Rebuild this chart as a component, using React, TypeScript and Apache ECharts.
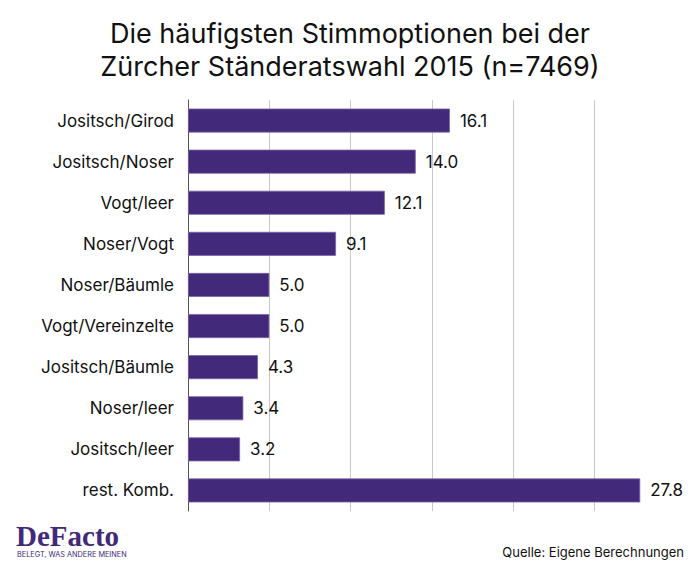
import React, { useEffect, useRef } from "react";
import * as echarts from "echarts";

const categories = [
  "Jositsch/Girod",
  "Jositsch/Noser",
  "Vogt/leer",
  "Noser/Vogt",
  "Noser/Bäumle",
  "Vogt/Vereinzelte",
  "Jositsch/Bäumle",
  "Noser/leer",
  "Jositsch/leer",
  "rest. Komb.",
];
const values = [16.1, 14.0, 12.1, 9.1, 5.0, 5.0, 4.3, 3.4, 3.2, 27.8];
const titleLines = ["Die häufigsten Stimmoptionen bei der", "Zürcher Ständeratswahl 2015 (n=7469)"];
const sourceText = "Quelle: Eigene Berechnungen";

const FONT = "Inter, 'Noto Sans', sans-serif";
const PURPLE = "#42297a";

export default function App() {
  const ref = useRef<HTMLDivElement>(null);
  useEffect(() => {
    if (!ref.current) return;
    const chart = echarts.init(ref.current, null, { renderer: "svg" });
    chart.setOption({
      animation: false,
      backgroundColor: "#ffffff",
      title: {
        text: titleLines.join("\n"),
        left: "center",
        top: 12,
        textStyle: {
          fontFamily: FONT,
          fontSize: 27,
          fontWeight: "normal",
          color: "#111",
          lineHeight: 33,
        },
      },
      grid: { left: 188, right: 24, top: 100, height: 411, containLabel: false },
      xAxis: {
        type: "value",
        min: 0,
        max: 30,
        interval: 5,
        axisLabel: { show: false },
        axisLine: { show: false },
        axisTick: { show: false },
        splitLine: { show: true, showMaxLine: false, lineStyle: { color: "#c8c8c8", width: 1 } },
      },
      yAxis: {
        type: "category",
        data: categories,
        inverse: true,
        axisTick: { show: false },
        axisLine: { show: true, lineStyle: { color: "#555", width: 1 } },
        axisLabel: { fontFamily: FONT, fontSize: 17, color: "#111", margin: 14 },
      },
      series: [
        {
          type: "bar",
          data: values,
          barWidth: 24,
          itemStyle: { color: PURPLE, borderColor: "#7a66a8", borderWidth: 0.8 },
          label: {
            show: true,
            position: "right",
            distance: 10,
            fontFamily: FONT,
            fontSize: 17,
            color: "#111",
            formatter: (p: any) => Number(p.value).toFixed(1),
          },
        },
      ],
      graphic: [
        {
          type: "text",
          left: 16,
          top: 521,
          style: {
            text: "DeFacto",
            font: "600 29px 'Liberation Serif', 'DejaVu Serif', serif",
            fill: PURPLE,
          },
        },
        {
          type: "text",
          left: 17,
          top: 551,
          style: {
            text: "BELEGT, WAS ANDERE MEINEN",
            font: "7.3px " + FONT,
            fill: PURPLE,
          },
        },
        {
          type: "text",
          right: 16,
          top: 545,
          style: {
            text: sourceText,
            font: "13px " + FONT,
            fill: "#111",
          },
        },
      ],
    });
    return () => chart.dispose();
  }, []);
  return <div ref={ref} style={{ width: 700, height: 572, position: "absolute", left: 0, top: 0 }} />;
}
